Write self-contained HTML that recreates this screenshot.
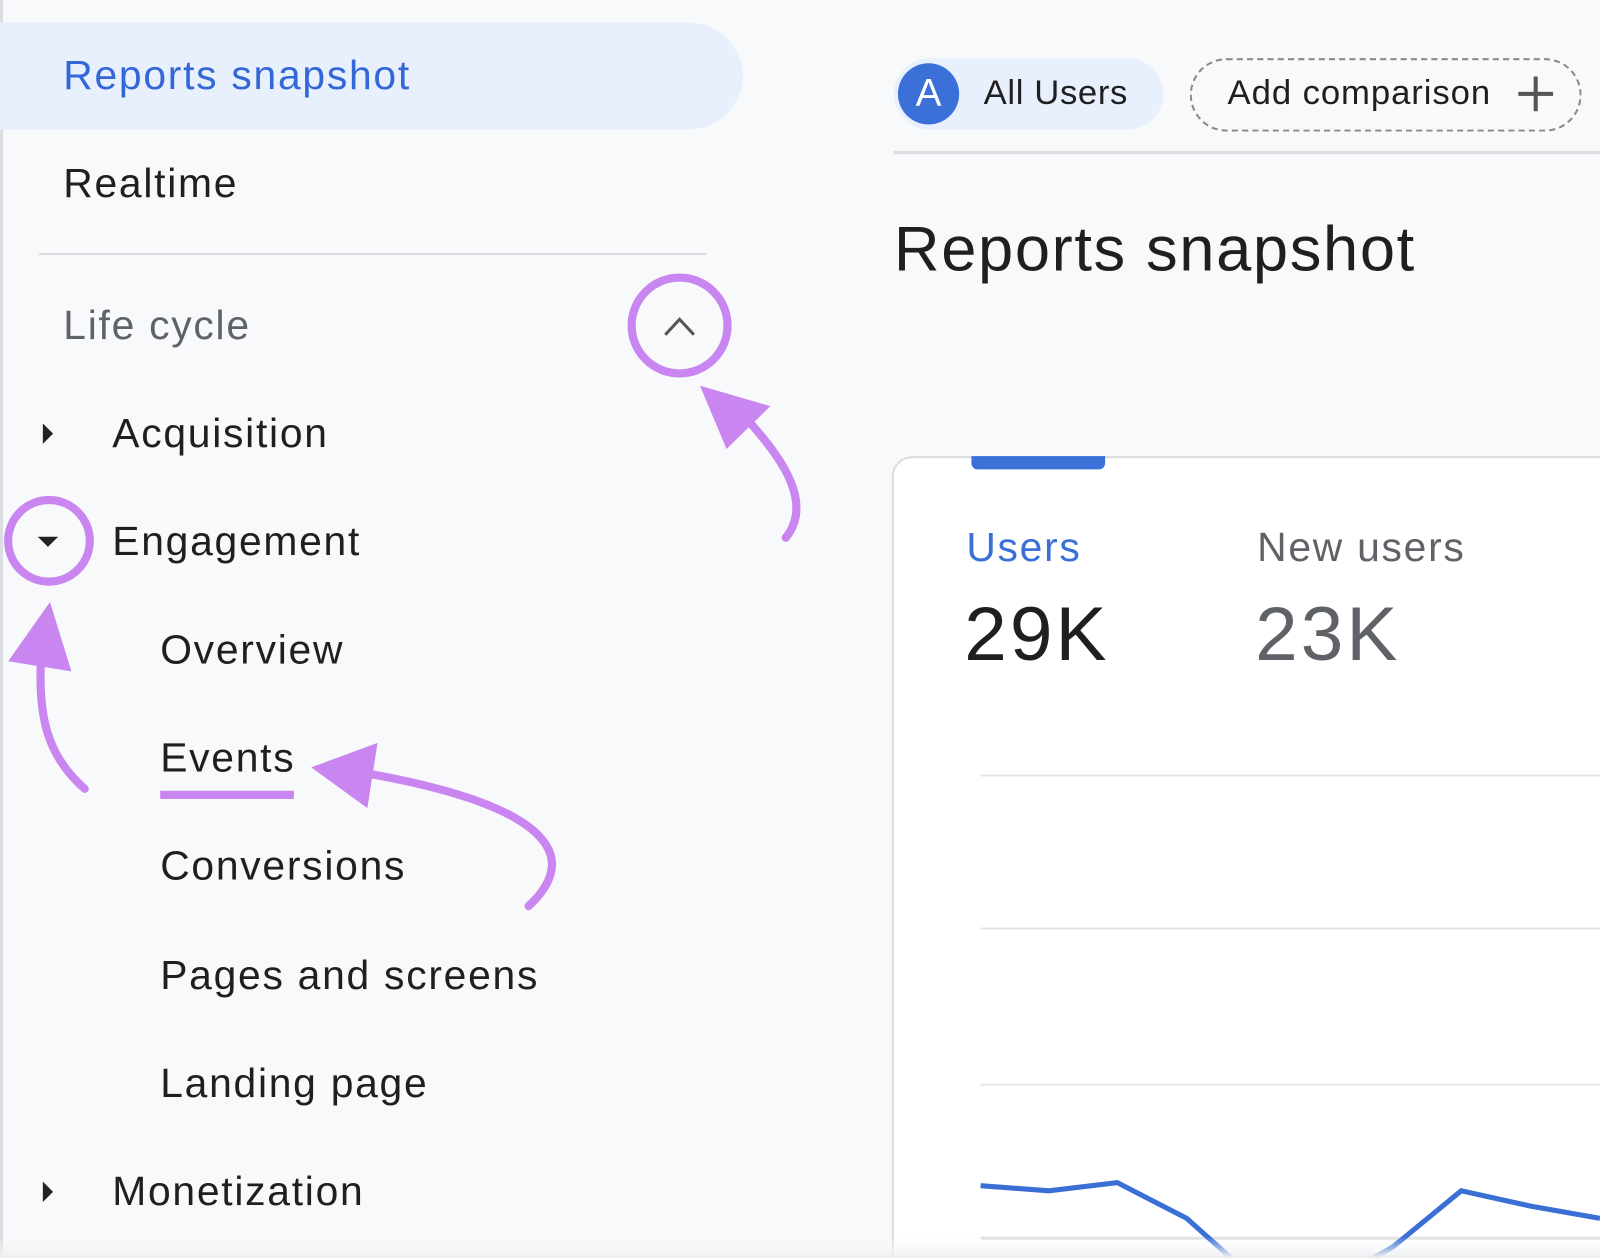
<!DOCTYPE html>
<html><head><meta charset="utf-8"><style>
html,body{margin:0;padding:0;width:1600px;height:1258px;overflow:hidden;background:#f8f9fb;}
#w{position:absolute;left:0;top:0;width:1568px;height:1233px;overflow:hidden;transform:scale(1.0204);transform-origin:0 0;font-family:"Liberation Sans",sans-serif;}
.t{position:absolute;white-space:nowrap;font-size:40px;letter-spacing:1.7px;color:#1f1f1f;line-height:1;}
.tri{position:absolute;width:0;height:0;}
</style></head><body><div id="w">
<div style="position:absolute;left:0;top:0;width:3px;height:1233px;background:#dcdde0"></div>
<div style="position:absolute;left:0;top:22px;width:728px;height:105px;background:#e8f0fe;border-radius:0 53px 53px 0"></div>
<div class="t" style="left:62px;top:54px;color:#3367d6">Reports snapshot</div>
<div class="t" style="left:62px;top:160px">Realtime</div>
<div style="position:absolute;left:38px;top:248px;width:654px;height:2px;background:#dadce0"></div>
<div class="t" style="left:62px;top:299px;color:#5f6368">Life cycle</div>
<div class="t" style="left:110px;top:405px">Acquisition</div>
<div class="t" style="left:110px;top:511px">Engagement</div>
<div class="t" style="left:157px;top:617px">Overview</div>
<div class="t" style="left:157px;top:723px">Events</div>
<div class="t" style="left:157px;top:829px">Conversions</div>
<div class="t" style="left:157px;top:936px">Pages and screens</div>
<div class="t" style="left:157px;top:1042px">Landing page</div>
<div class="t" style="left:110px;top:1148px">Monetization</div>
<div class="tri" style="left:42px;top:415px;border-left:10px solid #222;border-top:10px solid transparent;border-bottom:10px solid transparent"></div>
<div class="tri" style="left:42px;top:1158px;border-left:10px solid #222;border-top:10px solid transparent;border-bottom:10px solid transparent"></div>
<div class="tri" style="left:37px;top:526px;border-top:10px solid #222;border-left:10px solid transparent;border-right:10px solid transparent"></div>

<div style="position:absolute;left:876px;top:57px;width:264px;height:70px;background:#e8f0fe;border-radius:35px"></div>
<div style="position:absolute;left:880px;top:62px;width:60px;height:60px;border-radius:50%;background:#3a70d8;color:#fff;font-size:38px;text-align:center;line-height:60px">A</div>
<div class="t" style="left:964px;top:74px;font-size:34px;letter-spacing:0.6px">All Users</div>
<div style="position:absolute;left:1166px;top:57px;width:380px;height:68px;border:2px dashed #8a8a8a;border-radius:36px"></div>
<div class="t" style="left:1203px;top:74px;font-size:34px;letter-spacing:0.9px">Add comparison</div>
<div style="position:absolute;left:1488px;top:90px;width:34px;height:4px;background:#555"></div>
<div style="position:absolute;left:1503px;top:75px;width:4px;height:34px;background:#555"></div>
<div style="position:absolute;left:876px;top:148px;width:692px;height:3px;background:#dadce0"></div>
<div class="t" style="left:876px;top:214px;font-size:62px;letter-spacing:1.6px">Reports snapshot</div>

<div style="position:absolute;left:874px;top:447px;width:720px;height:820px;background:#fff;border:2px solid #dadce0;border-radius:20px 0 0 0"></div>
<div style="position:absolute;left:952px;top:447px;width:131px;height:13px;background:#3a70d8;border-radius:0 0 6px 6px"></div>
<div class="t" style="left:947px;top:517px;color:#3a70d8">Users</div>
<div class="t" style="left:1232px;top:517px;color:#5f6368">New users</div>
<div class="t" style="left:945px;top:584px;font-size:75px;letter-spacing:3px">29K</div>
<div class="t" style="left:1230px;top:584px;font-size:75px;letter-spacing:3px;color:#5f6368">23K</div>
<div style="position:absolute;left:961px;top:759px;width:607px;height:2px;background:#e6e6e6"></div>
<div style="position:absolute;left:961px;top:909px;width:607px;height:2px;background:#e6e6e6"></div>
<div style="position:absolute;left:961px;top:1062px;width:607px;height:2px;background:#e6e6e6"></div>
<div style="position:absolute;left:961px;top:1212px;width:607px;height:3px;background:#e2e2e2"></div>

<svg width="1568" height="1233" style="position:absolute;left:0;top:0">
<defs><linearGradient id="g" x1="0" y1="0" x2="0" y2="1"><stop offset="0" stop-color="#f8f9fb" stop-opacity="0"/><stop offset="1" stop-color="#eeeff1"/></linearGradient></defs>
<polyline points="961,1162 1028,1167 1095,1159 1163,1194 1210,1236 1340,1236 1365,1222 1432,1167 1500,1182 1568,1194" fill="none" stroke="#3a6fd6" stroke-width="5"/>
<rect x="0" y="1212" width="1568" height="21" fill="url(#g)"/>
<g fill="none" stroke="#c985f0" stroke-width="8" stroke-linecap="round">
<circle cx="666" cy="319" r="47"/>
<circle cx="48" cy="530" r="40"/>
<path d="M770,527 C800,490 760,440 722,400"/>
<path d="M83,773 C45,740 38,700 40,650"/>
<path d="M518,888 C570,840 540,790 360,758"/>
<line x1="157" y1="779" x2="288" y2="779" stroke-linecap="butt"/>
</g>
<g fill="#c985f0">
<polygon points="686,378 755,398 712,440"/>
<polygon points="49,590 70,658 8,648"/>
<polygon points="305,752 370,728 360,792"/>
</g>
<polyline points="652,328 666,313 680,328" fill="none" stroke="#555" stroke-width="3"/>
</svg>
</div></body></html>
